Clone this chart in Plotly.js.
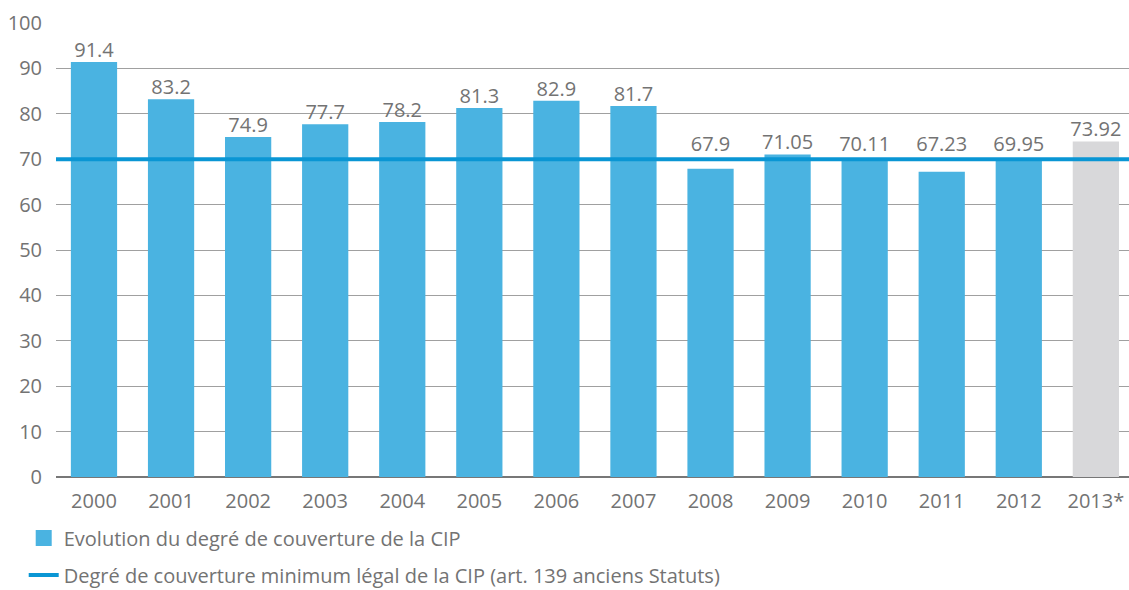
<!DOCTYPE html>
<html>
<head>
<meta charset="utf-8">
<script src="https://cdn.plot.ly/plotly-3.0.1.min.js"></script>
<style>
	html, body { margin: 0; padding: 0; background: #fff; }
	#chart { width: 1129px; height: 590px; }
</style>
</head>
<body>
<div id="chart"></div>
<script>
	/* Data */
	var years = ['2000', '2001', '2002', '2003', '2004', '2005', '2006', '2007', '2008', '2009', '2010', '2011', '2012', '2013*'];
	var coverage = [91.4, 83.2, 74.9, 77.7, 78.2, 81.3, 82.9, 81.7, 67.9, 71.05, 70.11, 67.23, 69.95, 73.92];
	var coverageLabels = ['91.4', '83.2', '74.9', '77.7', '78.2', '81.3', '82.9', '81.7', '67.9', '71.05', '70.11', '67.23', '69.95', '73.92'];
	var minimumLegal = 70;
	var barName = 'Evolution du degré de couverture de la CIP';
	var lineName = 'Degré de couverture minimum légal de la CIP (art. 139 anciens Statuts)';

	var blue = '#4ab3e1';
	var grey = '#d8d8da';
	var textGrey = '#737373';

	// last year is a projection, drawn grey
	var barColors = years.map(function(y) { return y.indexOf('*') > -1 ? grey : blue; });
	// labels never sit below the legal minimum line
	var labelY = coverage.map(function(v) { return Math.max(v, minimumLegal + 0.6); });

	var bars = {
		type: 'bar',
		name: barName,
		x: years,
		y: coverage,
		marker: { color: barColors },
		width: 0.6,
		hoverinfo: 'x+y',
		showlegend: false
	};

	var labels = {
		type: 'scatter',
		mode: 'text',
		x: years,
		y: labelY,
		text: coverageLabels,
		textposition: 'top center',
		textfont: { size: 20, color: textGrey },
		cliponaxis: false,
		hoverinfo: 'skip',
		showlegend: false
	};

	// legend entry for the bars (bigger square than the bar legend symbol)
	var barKey = {
		type: 'scatter',
		mode: 'markers',
		name: barName,
		x: [null],
		y: [null],
		marker: { symbol: 'square', size: 16, color: blue },
		legendgroup: 'a'
	};

	var layout = {
		width: 1129,
		height: 590,
		margin: { l: 56, r: 0, t: 23, b: 113, autoexpand: false },
		paper_bgcolor: '#fff',
		plot_bgcolor: '#fff',
		font: { family: '"Open Sans", "Noto Sans", sans-serif', size: 20, color: textGrey },
		showlegend: true,
		legend: {
			xref: 'container', yref: 'container',
			x: 0.021, y: 0.121,
			xanchor: 'left', yanchor: 'top',
			orientation: 'v',
			font: { size: 20, color: textGrey },
			tracegroupgap: 8,
			traceorder: 'grouped',
			itemwidth: 30
		},
		xaxis: {
			type: 'category',
			range: [-0.493, 13.43],
			showgrid: false,
			showline: false,
			ticks: '',
			tickangle: 0,
			ticklabelstandoff: 10,
			tickfont: { size: 20, color: textGrey },
			automargin: false
		},
		yaxis: {
			range: [0, 100],
			dtick: 10,
			showgrid: true,
			gridcolor: '#a0a0a0',
			gridwidth: 1,
			zeroline: true,
			zerolinecolor: '#777777',
			zerolinewidth: 2,
			showline: false,
			ticks: '',
			ticklabelstandoff: 13,
			tickfont: { size: 20, color: textGrey },
			automargin: false
		},
		shapes: [{
			type: 'line',
			xref: 'paper', yref: 'y',
			x0: 0, x1: 1,
			y0: minimumLegal, y1: minimumLegal,
			line: { color: '#0a96d4', width: 4 },
			layer: 'above',
			showlegend: true,
			name: lineName,
			legendgroup: 'b'
		}]
	};

	Plotly.newPlot('chart', [bars, labels, barKey], layout, { displayModeBar: false, staticPlot: true });
</script>
</body>
</html>
